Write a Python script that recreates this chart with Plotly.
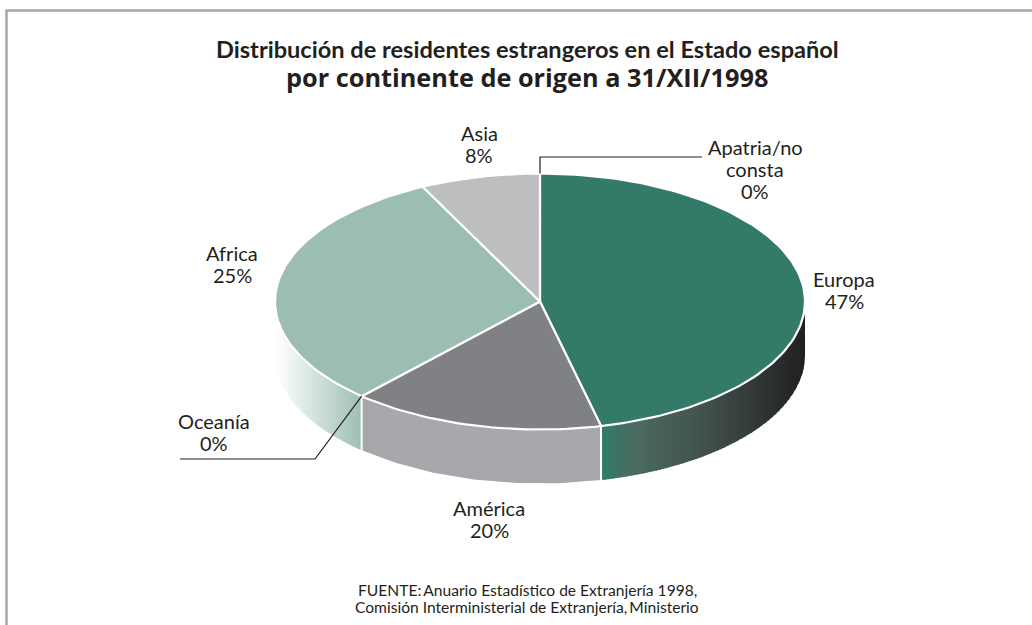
import math
import plotly.graph_objects as go

# Data
categories = ["Europa", "América", "Oceanía", "Africa", "Asia", "Apatria/no consta"]
label_percent = [47, 20, 0, 25, 8, 0]          # printed on the chart
drawn_share = [46.3, 15.45, 0.0, 30.95, 7.3, 0.0]  # size of each slice as drawn in the picture
top_colors = ["#337a68", "#808184", "#9bbdb2", "#9bbdb2", "#bcbec0", "#337a68"]
title_lines = ["Distribución de residentes estrangeros en el Estado español",
               "por continente de origen a 31/XII/1998"]
source_lines = ["FUENTE:\u2009Anuario Estadístico de Extranjería 1998,",
                "Comisión Interministerial de Extranjería,\u2009Ministerio"]

W, H = 1032, 625
CX, CY, RX, RY, DEPTH = 540, 301.5, 265, 128, 54
LABEL_FONT = "Lato"

def pt(t_deg, dy=0):
    t = math.radians(t_deg)
    return CX + RX * math.sin(t), CY - RY * math.cos(t) + dy

def ramp(stops, f):
    """Colour at position f along a list of (position, hex) stops."""
    for (p0, a), (p1, b) in zip(stops, stops[1:]):
        if f <= p1:
            g = (f - p0) / (p1 - p0)
            ca = [int(a[i:i + 2], 16) for i in (1, 3, 5)]
            cb = [int(b[i:i + 2], 16) for i in (1, 3, 5)]
            return "rgb(%d,%d,%d)" % tuple(round(x + (y - x) * g) for x, y in zip(ca, cb))
    return stops[-1][1]

total = sum(drawn_share)
edges = [0.0]
for v in drawn_share:
    edges.append(edges[-1] + v / total * 360)
by_name = dict(zip(categories, range(len(categories))))

fig = go.Figure()

def poly(xs, ys, fill, line_color=None, line_width=0):
    fig.add_trace(go.Scatter(x=xs, y=ys, mode="lines", fill="toself", fillcolor=fill,
                             line=dict(color=line_color or fill, width=line_width),
                             hoverinfo="skip", showlegend=False))

def ang(x):
    s = max(-1, min(1, (x - CX) / RX))
    return 180 - math.degrees(math.asin(s))

def wall(t0, t1, stops, strips):
    """Side wall between two angles; colour follows the stops with x from t0 to t1."""
    x0, x1 = pt(t0)[0], pt(t1)[0]
    sign = 1 if x1 > x0 else -1
    for i in range(strips):
        xa = x0 + (x1 - x0) * i / strips
        xb = x0 + (x1 - x0) * (i + 1) / strips
        if i > 0:
            xa -= sign * 2.0  # overlap the strip already drawn so no seams show
        a, b = ang(xa), ang(xb)
        ts = [a + (b - a) * k / 6 for k in range(7)]
        top = [pt(t) for t in ts]
        bot = [pt(t, DEPTH) for t in reversed(ts)]
        xs = [p[0] for p in top + bot]
        ys = [p[1] for p in top + bot]
        poly(xs + [xs[0]], ys + [ys[0]], ramp(stops, (i + 0.5) / strips))

e_eu = edges[by_name["Europa"] + 1]
e_am = edges[by_name["América"] + 1]

# side walls
wall(90, e_eu, [(0, "#1f1f1f"), (0.5, "#43514d"), (0.85, "#4a6b61"), (1, "#337a68")], 60)
wall(e_eu, e_am, [(0, "#a7a8ab"), (1, "#a7a8ab")], 1)
wall(e_am, 270, [(0, "#9bbdb2"), (1, "#ffffff")], 40)

# white separators on the wall
for t in (e_eu, e_am):
    p = pt(t)
    fig.add_trace(go.Scatter(x=[p[0], p[0]], y=[p[1], p[1] + DEPTH + 1], mode="lines",
                             line=dict(color="white", width=2), hoverinfo="skip", showlegend=False))

# top face
for i, name in enumerate(categories):
    if drawn_share[i] == 0:
        continue
    a, b = edges[i], edges[i + 1]
    n = max(2, int((b - a) / 1.5))
    pts = [pt(a + (b - a) * k / n) for k in range(n + 1)]
    xs = [CX] + [p[0] for p in pts] + [CX]
    ys = [CY] + [p[1] for p in pts] + [CY]
    poly(xs, ys, top_colors[i], "white", 2.2)

# leader lines
oc = pt(edges[by_name["Oceanía"]])
fig.add_trace(go.Scatter(x=[oc[0], 315, 180], y=[oc[1], 459, 459], mode="lines",
                         line=dict(color="#231f20", width=1.2), hoverinfo="skip", showlegend=False))
ap = pt(edges[by_name["Apatria/no consta"] + 1])
fig.add_trace(go.Scatter(x=[ap[0], ap[0], 702], y=[ap[1], 157, 157], mode="lines",
                         line=dict(color="#231f20", width=1.2), hoverinfo="skip", showlegend=False))

def pct(name):
    return f"{label_percent[by_name[name]]}%"

labels = [
    (479, 133, "Asia"), (479, 155, pct("Asia")),
    (755, 147, "Apatria/no"), (755, 169, "consta"), (755, 191, pct("Apatria/no consta")),
    (844, 279, "Europa"), (844, 301, pct("Europa")),
    (232, 253, "Africa"), (232, 275, pct("Africa")),
    (214, 421, "Oceanía"), (214, 443, pct("Oceanía")),
    (489, 508, "América"), (489, 530, pct("América")),
]
ann = [dict(x=x, y=y, text=t, showarrow=False, xanchor="center", yanchor="middle",
            font=dict(family=LABEL_FONT, size=20, color="#231f20")) for x, y, t in labels]
ann.append(dict(x=527, y=49, text=title_lines[0], showarrow=False, xanchor="center", yanchor="middle",
                font=dict(family="Lato", size=23.6, color="#231f20", weight=700)))
ann.append(dict(x=527, y=77, text=title_lines[1], showarrow=False, xanchor="center", yanchor="middle",
                font=dict(family="Open Sans", size=25.3, color="#231f20", weight=700)))
ann.append(dict(x=527, y=590, text=source_lines[0], showarrow=False, xanchor="center", yanchor="middle",
                font=dict(family=LABEL_FONT, size=15.6, color="#231f20")))
ann.append(dict(x=527, y=607, text=source_lines[1], showarrow=False, xanchor="center", yanchor="middle",
                font=dict(family=LABEL_FONT, size=15.6, color="#231f20")))

fig.update_layout(
    width=W, height=H, margin=dict(l=0, r=0, t=0, b=0), autosize=False,
    paper_bgcolor="white", plot_bgcolor="white", showlegend=False,
    xaxis=dict(range=[0, W], visible=False, fixedrange=True),
    yaxis=dict(range=[H, 0], visible=False, fixedrange=True),
    annotations=ann,
    shapes=[dict(type="line", x0=5.5, x1=W, y0=10.5, y1=10.5, line=dict(color="#a6a6a6", width=2.5)),
            dict(type="line", x0=6.5, x1=6.5, y0=10, y1=H, line=dict(color="#a6a6a6", width=2.5))],
)
fig.write_html("out.html", config=dict(displayModeBar=False),
               post_script="document.body.style.margin='0';document.body.style.overflow='hidden';")
